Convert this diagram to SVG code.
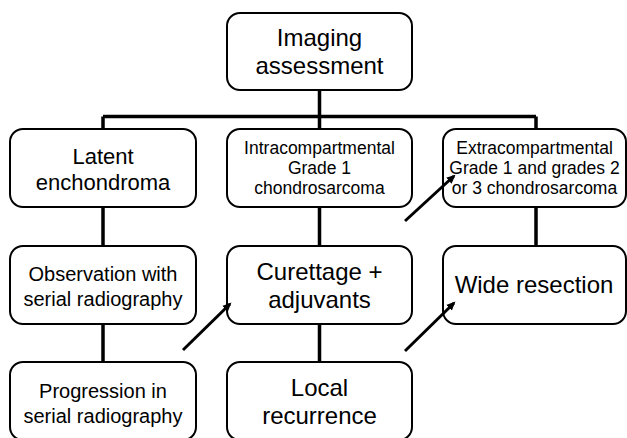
<svg xmlns="http://www.w3.org/2000/svg" width="627" height="438" viewBox="0 0 627 438">
<style>
.box{fill:#fff;stroke:#000;stroke-width:2}
text{font-family:"Liberation Sans",Arial,sans-serif;fill:#000;text-anchor:middle}
.t24{font-size:24px}
.t22{font-size:22px}
.t20{font-size:20px}
.t17{font-size:17.5px}
.conn{stroke:#000;stroke-width:3.5;fill:none}
.arr{stroke:#000;stroke-width:3;fill:none}
</style>
<defs>
<marker id="ah" markerWidth="10" markerHeight="10" refX="7" refY="4" orient="auto" markerUnits="userSpaceOnUse" viewBox="0 0 10 8">
<path d="M0,0 L9,4 L0,8 z" fill="#000"/>
</marker>
</defs>
<rect width="627" height="438" fill="#fff"/>
<g id="imaging">
<rect class="box" x="227" y="13" width="185" height="77" rx="13"/>
<text class="t24" x="319.5" y="46">Imaging</text>
<text class="t24" x="319.5" y="74">assessment</text>
</g>
<g id="latent">
<rect class="box" x="10" y="129" width="186" height="78" rx="13"/>
<text class="t22" x="103" y="164">Latent</text>
<text class="t22" x="103" y="190">enchondroma</text>
</g>
<g id="intra">
<rect class="box" x="227" y="129" width="185" height="78" rx="13"/>
<text class="t17" x="319.5" y="154">Intracompartmental</text>
<text class="t17" x="319.5" y="174">Grade 1</text>
<text class="t17" x="319.5" y="194">chondrosarcoma</text>
</g>
<g id="extra">
<rect class="box" x="443" y="129" width="183" height="78" rx="13"/>
<text class="t17" x="534.5" y="154">Extracompartmental</text>
<text class="t17" x="534.5" y="174">Grade 1 and grades 2</text>
<text class="t17" x="534.5" y="194">or 3 chondrosarcoma</text>
</g>
<g id="observation">
<rect class="box" x="10" y="246" width="186" height="78" rx="13"/>
<text class="t20" x="103" y="281">Observation with</text>
<text class="t20" x="103" y="306">serial radiography</text>
</g>
<g id="curettage">
<rect class="box" x="227" y="246" width="185" height="78" rx="13"/>
<text class="t24" x="319.5" y="280">Curettage +</text>
<text class="t24" x="319.5" y="308">adjuvants</text>
</g>
<g id="wide">
<rect class="box" x="443" y="246" width="183" height="78" rx="13"/>
<text class="t24" x="534" y="293">Wide resection</text>
</g>
<g id="progression">
<rect class="box" x="10" y="362" width="186" height="78" rx="13"/>
<text class="t20" x="103" y="398">Progression in</text>
<text class="t20" x="103" y="423">serial radiography</text>
</g>
<g id="recurrence">
<rect class="box" x="227" y="362" width="185" height="78" rx="13"/>
<text class="t24" x="319.5" y="396">Local</text>
<text class="t24" x="319.5" y="424">recurrence</text>
</g>
<g id="connectors">
<path class="conn" d="M319.5,91 V129 M103,116.5 H536 M103,116.5 V128 M536,116.5 V128"/>
<path class="conn" d="M103,208 V245 M103,325 V361 M319.5,208 V245 M319.5,325 V361 M536,208 V245"/>
<line class="arr" x1="183" y1="350" x2="230" y2="304" marker-end="url(#ah)"/>
<line class="arr" x1="405" y1="351" x2="454" y2="303" marker-end="url(#ah)"/>
<line class="arr" x1="405" y1="221" x2="454" y2="176" marker-end="url(#ah)"/>
</g>
</svg>
